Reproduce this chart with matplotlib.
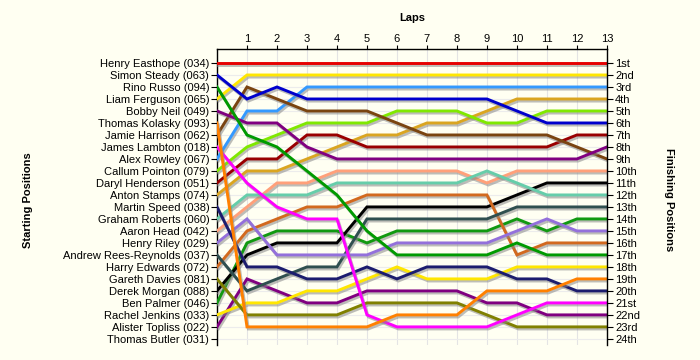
import matplotlib
matplotlib.use("Agg")
import matplotlib.pyplot as plt
import matplotlib.patheffects as pe

plt.rcParams['font.family'] = ['Liberation Sans', 'DejaVu Sans']

laps = list(range(14))

drivers = [
    "Henry Easthope (034)", "Simon Steady (063)", "Rino Russo (094)",
    "Liam Ferguson (065)", "Bobby Neil (049)", "Thomas Kolasky (093)",
    "Jamie Harrison (062)", "James Lambton (018)", "Alex Rowley (067)",
    "Callum Pointon (079)", "Daryl Henderson (051)", "Anton Stamps (074)",
    "Martin Speed (038)", "Graham Roberts (060)", "Aaron Head (042)",
    "Henry Riley (029)", "Andrew Rees-Reynolds (037)", "Harry Edwards (072)",
    "Gareth Davies (081)", "Derek Morgan (088)", "Ben Palmer (046)",
    "Rachel Jenkins (033)", "Alister Topliss (022)", "Thomas Butler (031)",
]

finish_labels = ["1st", "2nd", "3rd", "4th", "5th", "6th", "7th", "8th",
                 "9th", "10th", "11th", "12th", "13th", "14th", "15th",
                 "16th", "17th", "18th", "19th", "20th", "21st", "22nd",
                 "23rd", "24th"]

colors = ['#e60000', '#0000cc', '#009a00', '#ffe600', '#800080', '#ff8000',
          '#7a4410', '#ff00ff', '#3399ff', '#80e800', '#990000', '#daa520',
          '#1c1c6e', '#66cdaa', '#ffa07a', '#9370db', '#2f4f4f', '#d2691e',
          '#808000', '#000000', '#119911', '#ffe600', '#800080', '#000000']

# position of each driver at lap 0..13
easthope = [1, 1, 1, 1, 1, 1, 1, 1, 1, 1, 1, 1, 1, 1]
steady = [2, 4, 3, 4, 4, 4, 4, 4, 4, 4, 5, 6, 6, 6]
russo = [3, 7, 8, 10, 12, 15, 17, 17, 17, 17, 16, 17, 17, 17]
ferguson = [4, 2, 2, 2, 2, 2, 2, 2, 2, 2, 2, 2, 2, 2]
neil = [5, 6, 6, 8, 9, 9, 9, 9, 9, 9, 9, 9, 9, 8]
kolasky = [6, 23, 23, 23, 23, 23, 22, 22, 22, 20, 20, 20, 19, 19]
harrison = [7, 3, 4, 5, 5, 5, 6, 7, 7, 7, 7, 7, 8, 9]
lambton = [8, 11, 13, 14, 14, 22, 23, 23, 23, 23, 22, 21, 21, 21]
rowley = [9, 5, 5, 3, 3, 3, 3, 3, 3, 3, 3, 3, 3, 3]
pointon = [10, 8, 7, 6, 6, 6, 5, 5, 5, 6, 6, 5, 5, 5]
henderson = [11, 9, 9, 7, 7, 8, 8, 8, 8, 8, 8, 8, 7, 7]
stamps = [12, 10, 10, 9, 8, 7, 7, 6, 6, 5, 4, 4, 4, 4]
speed = [13, 18, 18, 19, 19, 18, 19, 18, 18, 18, 19, 19, 20, 20]
roberts = [14, 12, 12, 12, 11, 11, 11, 11, 11, 10, 11, 12, 12, 12]
head = [15, 13, 11, 11, 10, 10, 10, 10, 10, 11, 10, 10, 10, 10]
riley = [16, 14, 17, 17, 17, 17, 16, 16, 16, 16, 15, 14, 15, 15]
rees_reynolds = [17, 20, 19, 18, 18, 14, 14, 14, 14, 14, 13, 13, 13, 13]
edwards = [18, 15, 14, 13, 13, 12, 12, 12, 12, 12, 17, 16, 16, 16]
davies = [19, 22, 22, 22, 22, 21, 21, 21, 21, 22, 23, 23, 23, 23]
morgan = [20, 17, 16, 16, 16, 13, 13, 13, 13, 13, 12, 11, 11, 11]
palmer = [21, 16, 15, 15, 15, 16, 15, 15, 15, 15, 14, 15, 14, 14]
jenkins = [22, 21, 21, 20, 20, 19, 18, 19, 19, 19, 18, 18, 18, 18]
topliss = [23, 19, 20, 21, 21, 20, 20, 20, 20, 21, 21, 22, 22, 22]
butler = []  # no lap data

positions = [easthope, steady, russo, ferguson, neil, kolasky, harrison,
             lambton, rowley, pointon, henderson, stamps, speed, roberts,
             head, riley, rees_reynolds, edwards, davies, morgan, palmer,
             jenkins, topliss, butler]

bg = '#fffff2'
fig = plt.figure(figsize=(7, 3.6), dpi=100)
fig.patch.set_facecolor(bg)
ax = fig.add_axes([0.31, 0.042, 0.557, 0.822])
ax.set_facecolor(bg)

shadow = [pe.SimpleLineShadow(offset=(1, -1.5), shadow_color='#888888', alpha=0.55),
          pe.Normal()]

n = len(drivers)
for i in range(n - 1, -1, -1):
    pos = positions[i]
    if not pos:
        continue
    ax.plot(laps[:len(pos)], pos, color=colors[i], lw=2.1,
            solid_joinstyle='miter', path_effects=shadow, zorder=3 + (n - i) * 0.01)

ax.set_xlim(0, 13)
ax.set_ylim(24.5, -0.17)

# grid
for k in range(1, 14):
    ax.axvline(k, color='#e4e4e4', lw=0.8, zorder=1)
for r in range(1, 25):
    ax.axhline(r, color='#ececec', lw=0.8, zorder=1)

ax.xaxis.tick_top()
ax.set_xticks(range(1, 14))
ax.set_xticklabels([str(k) for k in range(1, 14)])
ax.set_yticks(range(1, 25))
ax.set_yticklabels(drivers)
ax.tick_params(axis='both', labelsize=8, length=4, width=0.8, pad=1.5, colors='black')
ax.tick_params(axis='x', length=3, pad=0.5)

for s in ['bottom', 'right']:
    ax.spines[s].set_visible(False)
ax.spines['left'].set_linewidth(1)
ax.spines['top'].set_linewidth(1)

ax2 = ax.twinx()
ax2.set_ylim(ax.get_ylim())
ax2.set_yticks(range(1, 25))
ax2.set_yticklabels(finish_labels)
ax2.tick_params(axis='y', labelsize=8, length=4, width=0.8, pad=2)
for s in ['bottom', 'left', 'top']:
    ax2.spines[s].set_visible(False)
ax2.spines['right'].set_linewidth(1)

fig.text(0.589, 0.95, "Laps", ha='center', va='center', fontsize=8, fontweight='bold')
fig.text(0.04, 0.445, "Starting Positions", ha='center', va='center',
         rotation=90, fontsize=8, fontweight='bold')
fig.text(0.955, 0.445, "Finishing Positions", ha='center', va='center',
         rotation=-90, fontsize=8, fontweight='bold')

fig.savefig("out.png", dpi=100, facecolor=bg)
